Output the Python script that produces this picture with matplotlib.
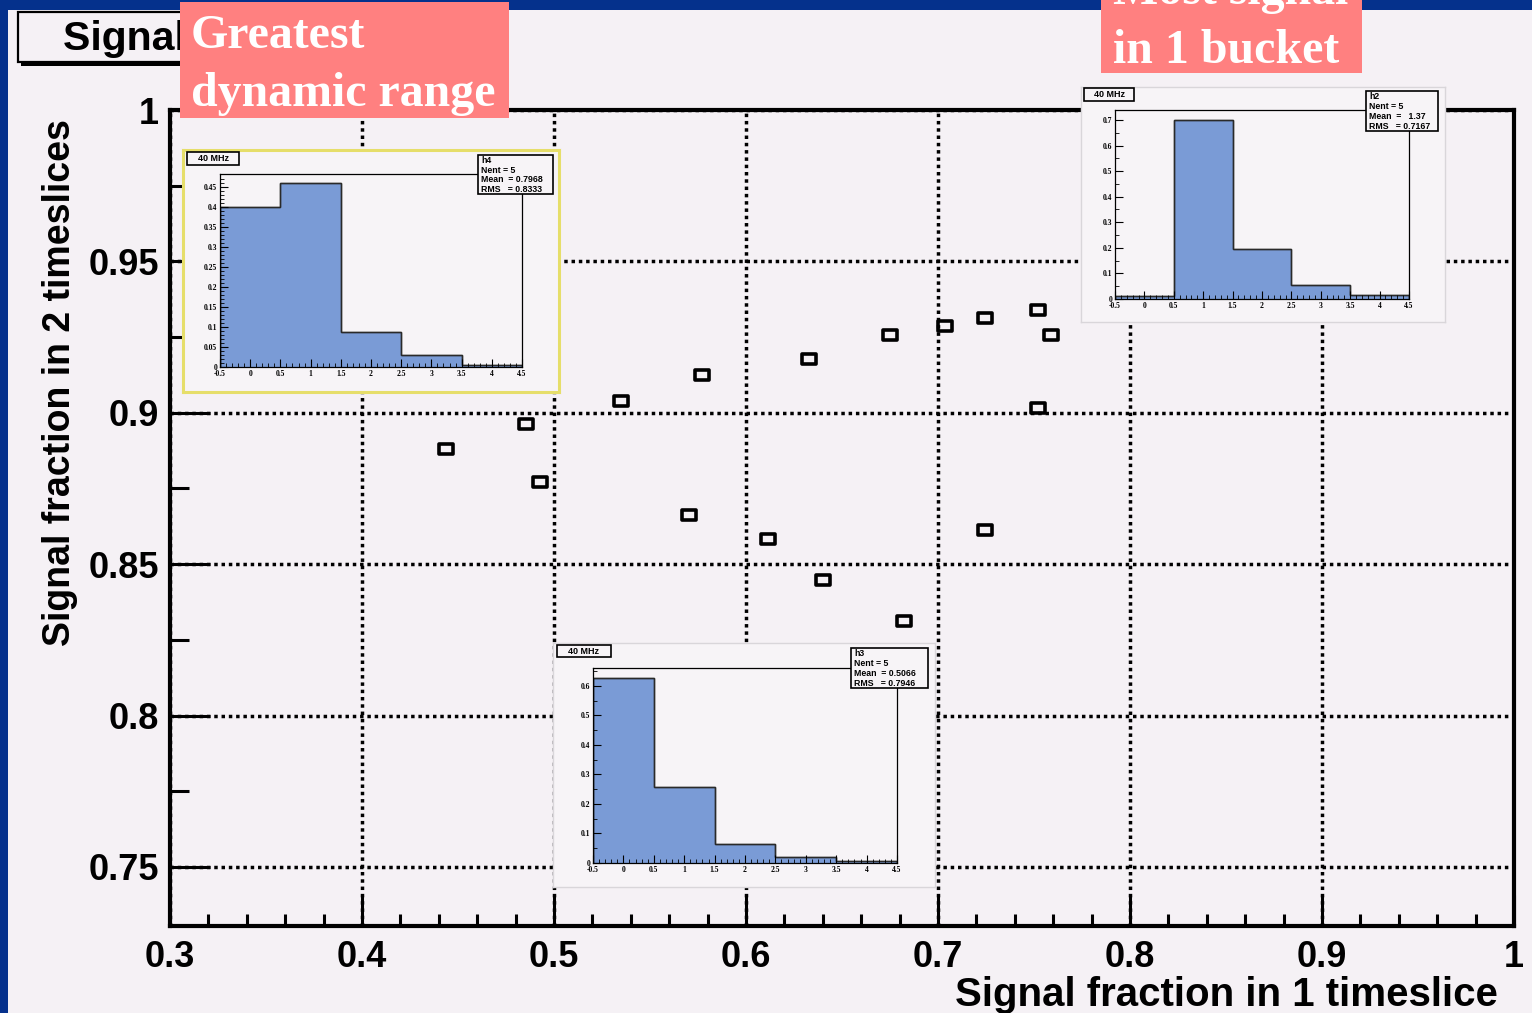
import matplotlib.pyplot as plt
from matplotlib.patches import Rectangle
from matplotlib.path import Path
import numpy as np

plt.rcParams['font.family'] = ['Liberation Sans', 'DejaVu Sans']

# scatter data: signal fraction in 1 and 2 timeslices
frac1 = [0.4435, 0.4854, 0.4927, 0.5347, 0.5701, 0.5769, 0.6115, 0.6328, 0.6401,
         0.6750, 0.6822, 0.7034, 0.7245, 0.7245, 0.7521, 0.7521, 0.7589]
frac2 = [0.8880, 0.8963, 0.8771, 0.9039, 0.8663, 0.9125, 0.8583, 0.9178, 0.8448,
         0.9257, 0.8312, 0.9287, 0.9313, 0.8613, 0.9339, 0.9016, 0.9257]

x_ticks = [0.3, 0.4, 0.5, 0.6, 0.7, 0.8, 0.9, 1.0]
x_ticklabels = ['0.3', '0.4', '0.5', '0.6', '0.7', '0.8', '0.9', '1']
y_ticks = [0.75, 0.8, 0.85, 0.9, 0.95, 1.0]
y_ticklabels = ['0.75', '0.8', '0.85', '0.9', '0.95', '1']

# histograms in the insets (bins centred at 0..4)
bin_edges = [-0.5, 0.5, 1.5, 2.5, 3.5, 4.5]
h4_vals = [0.400, 0.460, 0.088, 0.031, 0.006]
h2_vals = [0.013, 0.700, 0.196, 0.056, 0.016]
h3_vals = [0.628, 0.259, 0.0655, 0.019, 0.0068]
h4_stats = ['h4', 'Nent = 5', 'Mean  = 0.7968', 'RMS   = 0.8333']
h2_stats = ['h2', 'Nent = 5', 'Mean  =   1.37', 'RMS   = 0.7167']
h3_stats = ['h3', 'Nent = 5', 'Mean  = 0.5066', 'RMS   = 0.7946']
hist_xticks = [-0.5, 0, 0.5, 1, 1.5, 2, 2.5, 3, 3.5, 4, 4.5]
hist_xlabels = ['-0.5', '0', '0.5', '1', '1.5', '2', '2.5', '3', '3.5', '4', '4.5']

W, H = 1532, 1013
canvas = '#f5f1f5'
blue = '#05318c'
pink = '#ff8080'
fill = '#7a9bd6'


def fbox(x0, y0, x1, y1):
    return [x0 / W, 1 - y1 / H, (x1 - x0) / W, (y1 - y0) / H]


def frect(x0, y0, x1, y1, **kw):
    r = Rectangle((x0 / W, 1 - y1 / H), (x1 - x0) / W, (y1 - y0) / H,
                  transform=fig.transFigure, **kw)
    fig.add_artist(r)
    return r


fig = plt.figure(figsize=(15.32, 10.13), dpi=100, facecolor=canvas)

ax = fig.add_axes(fbox(170, 110, 1514, 926))
ax.set_facecolor(canvas)
ax.set_xlim(0.3, 1.0)
ax.set_ylim(0.7305, 1.0)

rect_marker = Path([(-1.6, -1), (1.6, -1), (1.6, 1), (-1.6, 1), (-1.6, -1)],
                   [Path.MOVETO, Path.LINETO, Path.LINETO, Path.LINETO, Path.CLOSEPOLY])
ax.plot(frac1, frac2, ls='none', marker=rect_marker, markersize=10.5,
        markerfacecolor='none', markeredgecolor='black', markeredgewidth=2.6, zorder=5)

ax.set_xticks(x_ticks)
ax.set_xticklabels(x_ticklabels)
ax.set_xticks(np.arange(0.3, 1.001, 0.02), minor=True)
ax.set_yticks(y_ticks)
ax.set_yticklabels(y_ticklabels)
ax.set_yticks(np.arange(0.75, 1.001, 0.025), minor=True)
ax.tick_params(axis='x', which='major', direction='in', length=22, width=2.2,
               labelsize=26, pad=10)
ax.tick_params(axis='x', which='minor', direction='in', length=9, width=2.2)
ax.tick_params(axis='y', which='major', direction='in', length=29, width=2.2,
               labelsize=26, pad=8)
ax.tick_params(axis='y', which='minor', direction='in', length=14, width=2.2)
for lab in ax.get_xticklabels() + ax.get_yticklabels():
    lab.set_fontweight('bold')
for s in ax.spines.values():
    s.set_linewidth(3)
ax.grid(True, which='major', color='black', ls=(0, (1, 1.1)), lw=2.5)

ax.set_xlabel('Signal fraction in 1 timeslice', fontsize=29, fontweight='bold', ha='right')
ax.xaxis.set_label_coords((1498 - 170) / 1344, (926 - 976) / 816)
ax.set_ylabel('Signal fraction in 2 timeslices', fontsize=27, fontweight='bold')
ax.yaxis.set_label_coords((78 - 170) / 1344, (926 - 383) / 816)


def draw_inset(pad, frame, vals, ymax, ymajor, yminor, stats, stat_box, tag_box, edge, edge_w):
    pa = fig.add_axes(fbox(*pad))
    pa.set_zorder(2)
    pa.set_facecolor('#f7f4f7')
    pa.set_xticks([])
    pa.set_yticks([])
    for s in pa.spines.values():
        s.set_color(edge)
        s.set_linewidth(edge_w)

    ha = fig.add_axes(fbox(*frame))
    ha.set_zorder(3)
    ha.set_facecolor('#f7f4f7')
    ha.stairs(vals, bin_edges, fill=True, facecolor=fill, edgecolor='#2a2a2a', lw=1)
    ha.stairs(vals, bin_edges, color='#2a2a2a', lw=1)
    ha.set_xlim(-0.5, 4.5)
    ha.set_ylim(0, ymax)
    ha.set_xticks(hist_xticks)
    ha.set_xticklabels(hist_xlabels)
    ha.set_xticks(np.arange(-0.5, 4.501, 0.1), minor=True)
    ha.set_yticks(ymajor)
    ha.set_yticklabels([('%g' % v) for v in ymajor])
    ha.set_yticks(yminor, minor=True)
    ha.tick_params(which='major', direction='in', length=6, width=0.8, labelsize=5.5,
                   pad=2)
    ha.tick_params(which='minor', direction='in', length=3, width=0.6)
    for lab in ha.get_xticklabels() + ha.get_yticklabels():
        lab.set_fontfamily(['Liberation Serif', 'DejaVu Serif'])
        lab.set_fontweight('bold')
    for s in ha.spines.values():
        s.set_linewidth(0.9)

    # statistics box
    x0, y0, x1, y1 = stat_box
    frect(x0, y0, x1, y1, facecolor='#f7f4f7', edgecolor='black', lw=1.2, zorder=6)
    step = (y1 - y0) / 4.0
    for i, line in enumerate(stats):
        fig.text((x0 + 3) / W, 1 - (y0 + step * (i + 0.55)) / H, line, fontsize=6.3,
                 fontweight='bold', va='center', ha='left', zorder=7)
    # "40 MHz" title box
    x0, y0, x1, y1 = tag_box
    frect(x0, y0, x1, y1, facecolor='#f7f4f7', edgecolor='black', lw=1.2, zorder=6)
    fig.text((x0 + x1) / 2 / W, 1 - (y0 + y1) / 2 / H, '40 MHz', fontsize=6.5,
             fontweight='bold', va='center', ha='center', zorder=7)


draw_inset((183, 150, 559, 392), (220, 174, 522, 367), h4_vals, 0.4835,
           [0, 0.05, 0.1, 0.15, 0.2, 0.25, 0.3, 0.35, 0.4, 0.45],
           np.arange(0, 0.48, 0.01), h4_stats, (478, 155, 553, 194), (187, 152, 239, 165),
           '#e6de6a', 2.2)
draw_inset((1081, 87, 1445, 322), (1115, 110, 1409, 299), h2_vals, 0.739,
           [0, 0.1, 0.2, 0.3, 0.4, 0.5, 0.6, 0.7],
           np.arange(0, 0.74, 0.05), h2_stats, (1366, 91, 1438, 131), (1084, 88, 1134, 101),
           '#d9d6da', 1.0)
draw_inset((553, 643, 935, 887), (593, 668, 897, 863), h3_vals, 0.661,
           [0, 0.1, 0.2, 0.3, 0.4, 0.5, 0.6],
           np.arange(0, 0.66, 0.05), h3_stats, (851, 648, 928, 688), (557, 645, 611, 657),
           '#d9d6da', 1.0)

# slide background strips
frect(0, 0, 1532, 10, facecolor=blue, edgecolor='none', zorder=7)
frect(0, 0, 8, 1013, facecolor=blue, edgecolor='none', zorder=7)

# title box (mostly hidden behind the annotation)
frect(21, 15, 500, 66, facecolor='black', edgecolor='none', zorder=8)
frect(18, 12, 497, 62, facecolor=canvas, edgecolor='black', lw=1.6, zorder=8)
title = fig.text(63 / W, 1 - 50 / H, 'Signal fraction', fontsize=29.5, fontweight='bold',
                 va='baseline', ha='left', zorder=9)
title.set_clip_path(Rectangle((18 / W, 1 - 62 / H), (180 - 18) / W, 50 / H,
                              transform=fig.transFigure))

# annotation boxes
frect(180, 2, 509, 118, facecolor=pink, edgecolor='none', zorder=10)
fig.text(191 / W, 1 - 48 / H, 'Greatest', fontsize=34.5, family='Liberation Serif',
         fontweight='bold', color='white', va='baseline', zorder=11)
fig.text(191 / W, 1 - 106 / H, 'dynamic range', fontsize=34.5, family='Liberation Serif',
         fontweight='bold', color='white', va='baseline', zorder=11)
frect(1101, 0, 1362, 73, facecolor=pink, edgecolor='none', zorder=10)
fig.text(1113 / W, 1 - 4 / H, 'Most signal', fontsize=34.5, family='Liberation Serif',
         fontweight='bold', color='white', va='baseline', zorder=11)
fig.text(1113 / W, 1 - 63 / H, 'in 1 bucket', fontsize=34.5, family='Liberation Serif',
         fontweight='bold', color='white', va='baseline', zorder=11)

fig.savefig('out.png', dpi=100, facecolor=canvas)
